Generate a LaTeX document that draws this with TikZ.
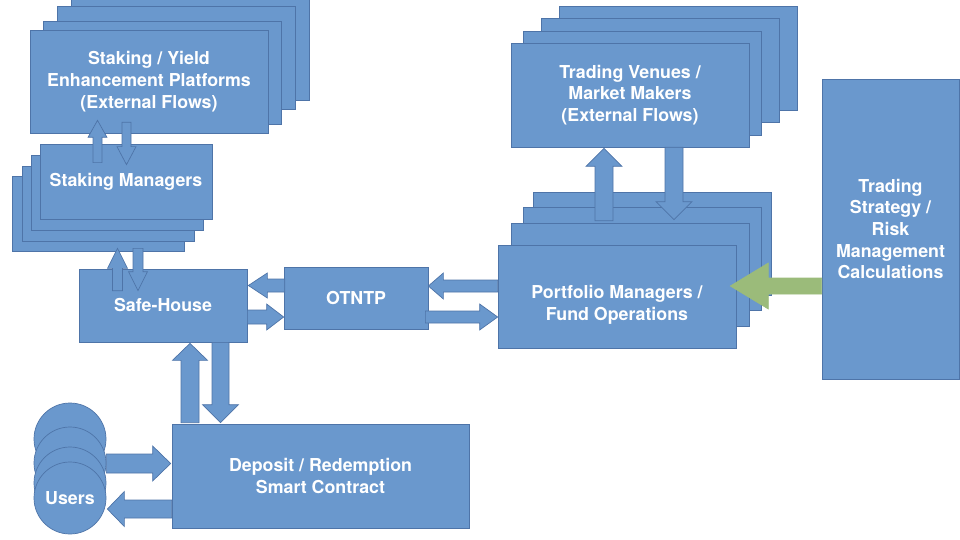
\documentclass[tikz,border=0pt]{standalone}
\usepackage{fontspec}
\setmainfont{TeX Gyre Heros}
\usetikzlibrary{calc}
\definecolor{boxblue}{RGB}{106,152,205}
\definecolor{edgeblue}{RGB}{78,116,168}
\definecolor{flowgreen}{RGB}{155,187,122}
\tikzset{
  box/.style={draw=edgeblue, fill=boxblue, line width=0.7pt, text=white, align=center,
    inner sep=0pt, font=\bfseries\fontsize{17.8}{21.7}\selectfont},
  flowarrow/.style={draw=edgeblue, fill=boxblue, line width=0.7pt, line join=miter},
}
% block arrow: [style] {from}{to}{half shaft}{half head}{head length}
\newcommand\flow[6][]{%
  \coordinate (fa) at (#2);
  \coordinate (fb) at (#3);
  \draw[flowarrow,#1] ($(fa)!#4!90:(fb)$) -- ($(fb)!#6!(fa)!#4!90:(fb)$)
    -- ($(fb)!#6!(fa)!#5!90:(fb)$) -- (fb)
    -- ($(fb)!#6!(fa)!#5!-90:(fb)$) -- ($(fb)!#6!(fa)!#4!-90:(fb)$)
    -- ($(fa)!#4!-90:(fb)$) -- cycle;
}
\begin{document}
\begin{tikzpicture}[x=1pt,y=-1pt]
\useasboundingbox (0,0) rectangle (960,540);
% staking platforms
\foreach \dx/\dy in {41/-33,27/-24,13/-9}
  \node[box, minimum width=238pt, minimum height=103pt] at (149+\dx,81.5+\dy) {};
\node[box, minimum width=238pt, minimum height=103pt] (pl) at (149,81.5)
  {Staking / Yield\\Enhancement Platforms\\(External Flows)};
% staking managers
\foreach \dx/\dy in {-28/32,-18/22,-9/11}
  \node[box, minimum width=172pt, minimum height=75pt] at (126+\dx,181.5+\dy) {};
\node[box, minimum width=172pt, minimum height=75pt] (sm) at (126,181.5) {Staking Managers};
% safe-house, otntp
\node[box, minimum width=168pt, minimum height=73pt] (sh) at (163,305.5) {Safe-House};
\node[box, minimum width=144pt, minimum height=62pt] (ot) at (356,298) {OTNTP};
% trading venues
\foreach \dx/\dy in {48/-37,30/-25,12/-12}
  \node[box, minimum width=238pt, minimum height=104pt] at (630+\dx,95+\dy) {};
\node[box, minimum width=238pt, minimum height=104pt] (tv) at (630,95)
  {Trading Venues /\\Market Makers\\(External Flows)};
% portfolio managers
\foreach \dx/\dy in {35/-53,25/-38,13/-22}
  \node[box, minimum width=238pt, minimum height=103pt] at (617+\dx,296.5+\dy) {};
\node[box, minimum width=238pt, minimum height=103pt] (pm) at (617,296.5) {};
\node[box, draw=none, fill=none] at ([yshift=-8pt]pm.center) {Portfolio Managers /\\Fund Operations};
% strategy
\node[box, minimum width=137pt, minimum height=300pt] (ts) at (890.5,229)
  {Trading\\Strategy /\\Risk\\Management\\Calculations};
% deposit and users
\node[box, minimum width=297pt, minimum height=104pt] (dep) at (320.5,476)
  {Deposit / Redemption\\Smart Contract};
\node[box, circle, minimum size=72pt] (u1) at (70,439) {};
\node[box, circle, minimum size=72pt] (u2) at (70,463) {};
\node[box, circle, minimum size=72pt] (u3) at (70,483) {};
\node[box, circle, minimum size=72pt] (u4) at (70,498) {Users};
% flows
\flow{$(sm.north)+(-28.5,19)$}{$(pl.south)+(-51.5,-13)$}{4.5pt}{9.5pt}{17pt}
\flow{$(pl.south)+(-22.5,-11)$}{$(sm.north)+(0.5,21)$}{4.5pt}{9.5pt}{18pt}
\flow{$(sh.north)+(-45.5,22)$}{$(sm.south)+(-8.5,29)$}{5pt}{10pt}{20pt}
\flow{$(sm.south)+(12,29)$}{$(sh.north)+(-25,22)$}{5pt}{9.5pt}{19pt}
\flow{$(ot.west)+(1,-12.5)$}{$(sh.east)+(1,-20)$}{6.5pt}{12.5pt}{19pt}
\flow{$(sh.east)+(0,11.5)$}{$(ot.west)+(0,19)$}{7pt}{13pt}{17pt}
\flow{$(pm.west)+(0,-10.5)$}{$(ot.east)+(0,-12)$}{6pt}{13pt}{15pt}
\flow{$(ot.east)+(-3,19)$}{$(pm.west)+(0,20.5)$}{6pt}{13pt}{18pt}
\flow{$(dep.north)+(-130.5,-1)$}{$(sh.south)+(27,1)$}{9pt}{17.5pt}{17pt}
\flow{$(sh.south)+(57.5,0)$}{$(dep.north)+(-100,-1)$}{8.5pt}{18pt}{18pt}
\flow{$(u2.east)+(0,0.5)$}{$(dep.west)+(-1,-12.5)$}{9.5pt}{17.5pt}{18pt}
\flow{$(dep.west)+(0,33)$}{$(u4.east)+(1,11)$}{9pt}{17.5pt}{17pt}
\flow{$(pm.north)+(-13,-24)$}{$(tv.south)+(-26,1)$}{9pt}{18pt}{18pt}
\flow{$(tv.south)+(44,0)$}{$(pm.north)+(57,-25)$}{9pt}{18pt}{18pt}
\flow[fill=flowgreen, draw=flowgreen]{$(ts.west)+(0,57)$}{$(pm.east)+(-6,-10.5)$}{8pt}{23pt}{38pt}
\end{tikzpicture}
\end{document}
